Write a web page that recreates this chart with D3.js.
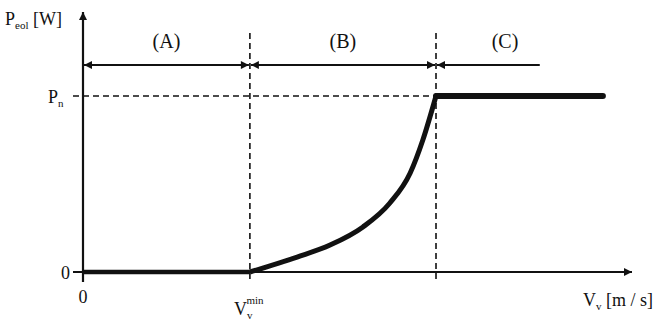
<!DOCTYPE html>
<html><head><meta charset="utf-8">
<script src="https://cdn.jsdelivr.net/npm/d3@7"></script>
<style>body{margin:0;background:#fff}svg{display:block}text{font-family:"Liberation Serif","DejaVu Serif",serif;fill:#111}</style>
</head><body><svg id="c" width="665" height="327"></svg>
<script>
// Data (arbitrary units: wind speed, normalized power)
const vMin = 3.04, vN = 6.43, vEnd = 9.47, vArrowCEnd = 8.32;
const curveV = [3.04, 3.90, 4.50, 5.10, 5.59, 5.96, 6.19, 6.43];
const curveP = [0, 0.085, 0.153, 0.256, 0.392, 0.5625, 0.75, 1.0];
const flatV = [6.43, 9.47];
const flatP = [1, 1];
const zeroV = [0, 3.04];
const zeroP = [0, 0];
const regionLabels = ["(A)", "(B)", "(C)"];
const regionBounds = [[0, 3.04], [3.04, 6.43], [6.43, 8.32]];

const svg = d3.select("#c");
const x = d3.scaleLinear().domain([0, 10]).range([83, 632]);
const y = d3.scaleLinear().domain([0, 1]).range([272, 96]);
const yTop = 1.477, arrowY = 1.176;

const defs = svg.append("defs");
function marker(id, dir){
  defs.append("marker").attr("id", id).attr("viewBox","0 0 10 10").attr("refX",10).attr("refY",5)
    .attr("markerWidth",10).attr("markerHeight",8).attr("markerUnits","userSpaceOnUse")
    .attr("orient", dir).append("path").attr("d","M0,0L10,5L0,10z").attr("fill","#111");
}
marker("ah","auto"); marker("ahs","auto-start-reverse");

// dashed guides
const dash = "6,4";
svg.append("line").attr("x1", x(0)-10).attr("x2", x(vN)).attr("y1", y(1)).attr("y2", y(1))
  .attr("stroke","#111").attr("stroke-width",1.6).attr("stroke-dasharray",dash);
[vMin, vN].forEach(v=>{
  svg.append("line").attr("x1", x(v)).attr("x2", x(v)).attr("y1", 33).attr("y2", y(0)+11)
    .attr("stroke","#111").attr("stroke-width",1.6).attr("stroke-dasharray",dash);
});

// axes
svg.append("line").attr("x1", x(0)).attr("x2", x(0)).attr("y1", y(0)+10).attr("y2", y(yTop))
  .attr("stroke","#111").attr("stroke-width",2.2).attr("marker-end","url(#ah)");
svg.append("line").attr("x1", x(0)-10).attr("x2", x(10)).attr("y1", y(0)).attr("y2", y(0))
  .attr("stroke","#111").attr("stroke-width",2.2).attr("marker-end","url(#ah)");

// region arrows
regionBounds.forEach((b,i)=>{
  const l = svg.append("line").attr("x1", x(b[0])+1).attr("x2", x(b[1])-(i<2?1:0)).attr("y1", y(arrowY)).attr("y2", y(arrowY))
    .attr("stroke","#111").attr("stroke-width",1.8).attr("marker-start","url(#ahs)");
  if(i<2) l.attr("marker-end","url(#ah)");
  svg.append("text").attr("x", i<2 ? (x(b[0])+x(b[1]))/2 : 505).attr("y", 48).attr("text-anchor","middle")
    .attr("font-size",20).text(regionLabels[i]);
});

// power curve
const line = d3.line().x(d=>x(d[0])).y(d=>y(d[1]));
const ptsZero = zeroV.map((v,i)=>[v, zeroP[i]]);
const ptsCurve = curveV.map((v,i)=>[v, curveP[i]]);
const ptsFlat = flatV.map((v,i)=>[v, flatP[i]]);
svg.append("path").attr("d", line(ptsZero)).attr("fill","none").attr("stroke","#111").attr("stroke-width",4.5);
svg.append("path").attr("d", d3.line().x(d=>x(d[0])).y(d=>y(d[1])).curve(d3.curveMonotoneX)(ptsCurve)).attr("fill","none").attr("stroke","#111").attr("stroke-width",5);
svg.append("path").attr("d", line(ptsFlat)).attr("fill","none").attr("stroke","#111").attr("stroke-width",6).attr("stroke-linecap","round");

// labels
const t1 = svg.append("text").attr("x", 5).attr("y", 25).attr("font-size",18);
t1.append("tspan").text("P");
t1.append("tspan").attr("font-size",11).attr("dy",4).text("eol");
t1.append("tspan").attr("dy",-4).text(" [W]");

const t2 = svg.append("text").attr("x", 48).attr("y", y(1)+7).attr("font-size",18);
t2.append("tspan").text("P");
t2.append("tspan").attr("font-size",11).attr("dy",4).text("n");

svg.append("text").attr("x", x(0)-13).attr("y", y(0)+7).attr("text-anchor","end").attr("font-size",18).text("0");
svg.append("text").attr("x", x(0)).attr("y", y(0)+31).attr("text-anchor","middle").attr("font-size",18).text("0");

const t3 = svg.append("text").attr("x", x(vMin)-16).attr("y", 315).attr("font-size",18);
t3.append("tspan").text("V");
t3.append("tspan").attr("font-size",11).attr("dy",4).text("v");
t3.append("tspan").attr("font-size",11).attr("dx",-6).attr("dy",-15).text("min");

const t4 = svg.append("text").attr("x", 583).attr("y", 306).attr("font-size",18);
t4.append("tspan").text("V");
t4.append("tspan").attr("font-size",11).attr("dy",4).text("v");
t4.append("tspan").attr("dy",-4).text(" [m / s]");
</script></body></html>
